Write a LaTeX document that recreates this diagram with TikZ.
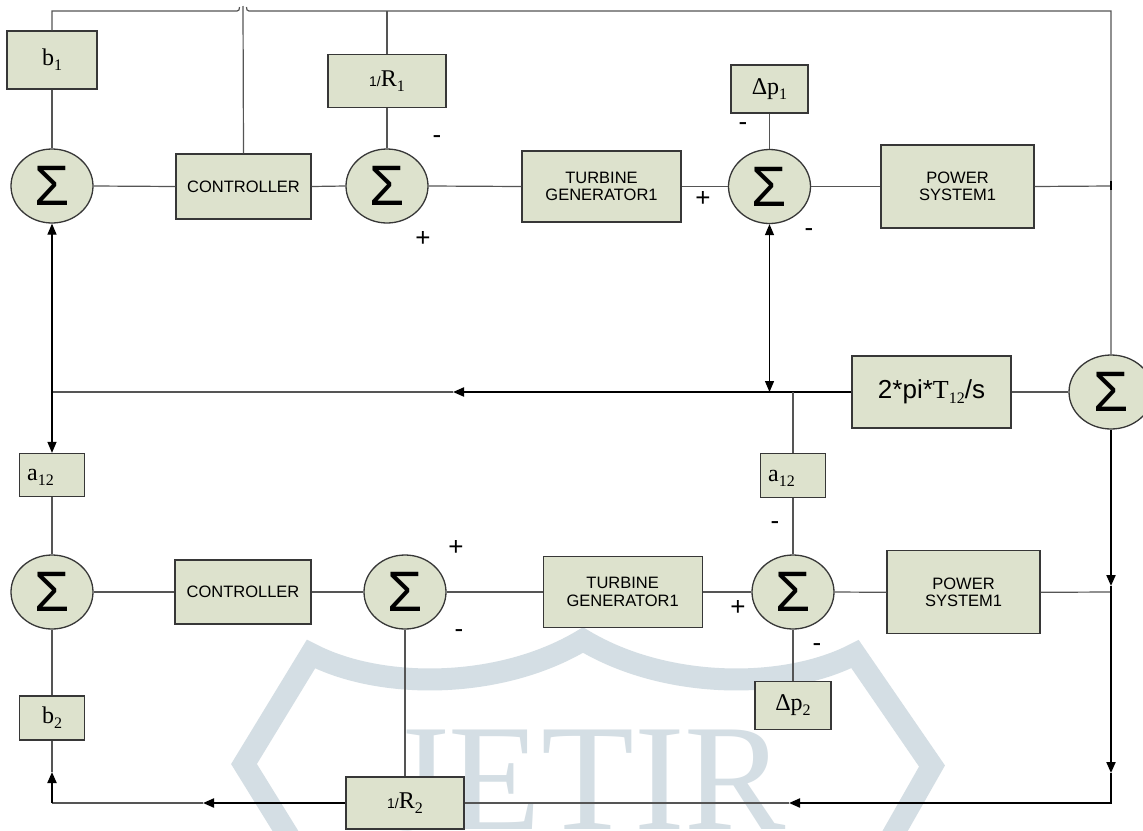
\documentclass[tikz,border=0pt]{standalone}
\usepackage{fontspec}
\setmainfont{Liberation Serif}
\newfontfamily\arialf{Liberation Sans}
\usetikzlibrary{shapes.geometric,arrows.meta}
\definecolor{boxfill}{RGB}{221,226,205}
\definecolor{boxline}{RGB}{55,55,55}
\definecolor{wirec}{RGB}{85,85,85}
\definecolor{wmark}{RGB}{212,222,228}
\newcommand\sbx[1]{\raisebox{-0.2em}{\fontsize{16}{16}\selectfont #1}}
\begin{document}
\begin{tikzpicture}[x=1pt,y=-1pt,
  blk/.style={draw=boxline,line width=1.3pt,fill=boxfill,rectangle,inner sep=0pt,align=center},
  sumnode/.style={draw=boxline,line width=1.3pt,fill=boxfill,ellipse,inner sep=0pt,minimum width=82pt,minimum height=74pt,font=\arialf\fontsize{57}{57}\selectfont},
  wire/.style={draw=wirec,line width=1.2pt},
  bwire/.style={draw=black,line width=2pt},
  thinblk/.style={draw=black,line width=1.3pt},
  tip/.style={-{Triangle[length=11pt,width=9pt]}},
  sgn/.style={font=\arialf\fontsize{26}{26}\selectfont,inner sep=0pt},
  lab/.style={font=\arialf\fontsize{16.5}{17.5}\selectfont},
  tms/.style={font=\fontsize{24}{24}\selectfont}
]
\useasboundingbox (0,0) rectangle (1143,830);
\fill[white] (0,0) rectangle (1143,830);
% watermark
\draw[wmark,line width=22pt,line join=miter] (291,840) -- (244,764) -- (311,654)
  .. controls (380,690) and (500,690) .. (583,640)
  .. controls (666,690) and (786,690) .. (855,654) -- (932,766) -- (890,840);
\node[anchor=base west,inner sep=0pt,text=wmark,font=\fontsize{152}{152}\selectfont] (wm) at (389,829) {JETIR};

% top row
\node[blk,minimum width=90pt,minimum height=58pt,tms] (b1) at (52,60) {b\sbx{1}};
\node[sumnode] (S1) at (52,186) {Σ};
\node[blk,minimum width=135pt,minimum height=65pt,lab] (C1) at (243.5,186.5) {CONTROLLER};
\node[sumnode] (S2) at (387,186) {Σ};
\node[blk,minimum width=118pt,minimum height=53pt,tms] (R1) at (387,81) {{\arialf\fontsize{14}{14}\selectfont 1/}R\sbx{1}};
\node[blk,minimum width=159pt,minimum height=71pt,lab] (TG1) at (601.5,186.5) {TURBINE\\GENERATOR1};
\node[sumnode] (S3) at (769.5,186.5) {Σ};
\node[blk,minimum width=77pt,minimum height=48pt,tms] (P1) at (769.5,89) {Δp\sbx{1}};
\node[blk,minimum width=153pt,minimum height=83pt,lab] (PS1) at (957.5,186.5) {POWER\\SYSTEM1};

% middle
\node[blk,minimum width=159pt,minimum height=72pt,font=\fontsize{26}{26}\selectfont] (T12) at (931.5,392) {{\arialf 2*pi*}T\sbx{12}{\arialf /s}};
\node[sumnode,minimum width=84pt] (SR) at (1111,392) {Σ};
\node[blk,minimum width=65pt,minimum height=43pt] (A1) at (52,475) {};
\node[tms,anchor=west,inner sep=0pt] (A1t) at (27,477) {a\sbx{12}};
\node[blk,minimum width=65pt,minimum height=44pt] (A2) at (793,475.7) {};
\node[tms,anchor=west,inner sep=0pt] (A2t) at (768,478) {a\sbx{12}};

% bottom row
\node[sumnode] (S4) at (52,592) {Σ};
\node[blk,minimum width=136pt,minimum height=64pt,lab] (C2) at (243,592) {CONTROLLER};
\node[sumnode] (S5) at (405,592) {Σ};
\node[blk,minimum width=159pt,minimum height=71pt,lab] (TG2) at (622.7,592) {TURBINE\\GENERATOR1};
\node[sumnode] (S6) at (793,592) {Σ};
\node[blk,minimum width=153pt,minimum height=83pt,lab] (PS2) at (963.5,592.3) {POWER\\SYSTEM1};
\node[blk,minimum width=76pt,minimum height=48pt,tms] (P2) at (793,705.5) {Δp\sbx{2}};
\node[blk,minimum width=65pt,minimum height=44pt,tms] (B2) at (52,718) {b\sbx{2}};
\node[blk,minimum width=118pt,minimum height=52pt,tms] (R2) at (405,803) {{\arialf\fontsize{14}{14}\selectfont 1/}R\sbx{2}};

% coordinates
\coordinate (tl) at (52,11);
\coordinate (hopa) at (237,11);
\coordinate (hopb) at (239.5,7);
\coordinate (hopc) at (246.5,7);
\coordinate (hopd) at (249,11);
\coordinate (tr) at (1111,11);
\coordinate (ctop) at (243,6);
\coordinate (rtop) at (387,11);
\coordinate (jR1) at (1111,186);
\coordinate (jR2) at (1111,592);
\coordinate (mL) at (52,392);
\coordinate (mA) at (453,392);
\coordinate (mD) at (769.5,392);
\coordinate (mA2) at (793,392);
\coordinate (rA1) at (1111,586);
\coordinate (rA2) at (1111,773);
\coordinate (br) at (1111,803);
\coordinate (bAr) at (789,803);
\coordinate (bA) at (203,803);
\coordinate (bl) at (52,803);
\coordinate (lA) at (52,772);

% top wiring
\draw[wire] (b1.north) -- (tl) -- (hopa) .. controls (239,11) and (239.5,9.5) .. (hopb);
\draw[wire] (hopc) .. controls (246.5,9.5) and (247,11) .. (hopd) -- (tr) -- (SR.north);
\draw[wire] (C1.north) -- (ctop);
\draw[wire] (R1.north) -- (rtop);
\draw[wire] (b1.south) -- (S1.north);
\draw[wire] (S1.east) -- (C1.west);
\draw[wire] (C1.east) -- (S2.west);
\draw[wire] (R1.south) -- (S2.north);
\draw[wire] (S2.east) -- (TG1.west);
\draw[wire] (TG1.east) -- (S3.west);
\draw[wire] (P1.south) -- (S3.north);
\draw[wire] (S3.east) -- (PS1.west);
\draw[wire] (PS1.east) -- (jR1);
\draw[black,line width=1.3pt] (1111,181) -- (1111,190);

% middle wiring
\draw[wire] (T12.east) -- (SR.west);
\draw[bwire,tip] (T12.west) -- (mA);
\draw[wire] (mA) -- (mL);
\draw[thinblk,tip] (mL) -- (S1.south);
\draw[thinblk,tip] (mL) -- (A1.north);
\draw[thinblk,{Triangle[length=11pt,width=9pt]}-{Triangle[length=11pt,width=9pt]}] (S3.south) -- (mD);
\draw[wire] (mA2) -- (A2.north);
\draw[wire] (A1.south) -- (S4.north);
\draw[wire] (A2.south) -- (S6.north);

% bottom wiring
\draw[wire] (S4.east) -- (C2.west);
\draw[wire] (C2.east) -- (S5.west);
\draw[wire] (S5.east) -- (TG2.west);
\draw[wire] (TG2.east) -- (S6.west);
\draw[wire] (S6.east) -- (PS2.west);
\draw[wire] (PS2.east) -- (jR2);
\draw[wire] (S6.south) -- (P2.north);
\draw[wire] (S4.south) -- (B2.north);
\draw[wire] (S5.south) -- (R2.north);
\draw[bwire,tip] (SR.south) -- (rA1);
\draw[bwire] (rA1) -- (jR2);
\draw[bwire,tip] (jR2) -- (rA2);
\draw[bwire,tip] (rA2) -- (br) -- (bAr);
\draw[wire] (bAr) -- (R2.east);
\draw[bwire,tip] (R2.west) -- (bA);
\draw[wire] (bA) -- (bl);
\draw[bwire,tip] (bl) -- (lA);
\draw[wire] (lA) -- (B2.south);

% signs
\node[sgn] (s1) at (437,140) {-};
\node[sgn] (s2) at (423,239) {+};
\node[sgn] (s3) at (703,199) {+};
\node[sgn] (s4) at (743,127) {-};
\node[sgn] (s5) at (809,233) {-};
\node[sgn] (s6) at (456,548) {+};
\node[sgn] (s7) at (459,634) {-};
\node[sgn] (s8) at (775,526) {-};
\node[sgn] (s9) at (738,608) {+};
\node[sgn] (s10) at (817,648) {-};
\end{tikzpicture}
\end{document}
